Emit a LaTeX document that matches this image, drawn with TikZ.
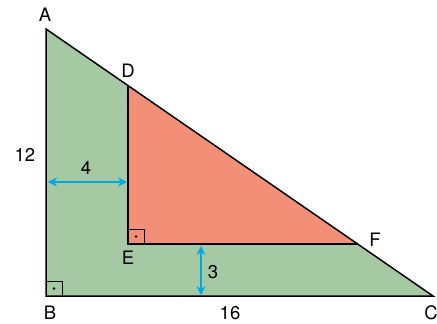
\documentclass[tikz,border=0pt]{standalone}
\usepackage{fontspec}
\setmainfont{TeX Gyre Heros}
\usetikzlibrary{arrows.meta}
\definecolor{greenf}{RGB}{165,201,163}
\definecolor{redf}{RGB}{243,143,118}
\definecolor{cyanA}{RGB}{0,168,228}
\tikzset{
  edge/.style={line width=1.5pt, line join=miter},
  lbl/.style={font=\fontsize{18.5}{20}\selectfont, inner sep=0pt},
  dim/.style={cyanA, line width=1.5pt, {Stealth[length=9pt,width=9pt]}-{Stealth[length=9pt,width=9pt]}},
  rmark/.style={line width=1pt}
}
\begin{document}
\begin{tikzpicture}[x=1pt,y=-1pt]
\useasboundingbox (0,0) rectangle (437,324);
\coordinate (A) at (46,29);
\coordinate (B) at (46,296);
\coordinate (C) at (433,296);
\coordinate (D) at (128,86);
\coordinate (E) at (128,244);
\coordinate (F) at (357.5,244);
\fill[greenf] (A) -- (B) -- (C) -- cycle;
\fill[redf] (D) -- (E) -- (F) -- cycle;
\draw[edge] (A) -- (B) -- (C) -- cycle;
\draw[edge] (D) -- (E) -- (F);
% right-angle marks
\draw[rmark] (46,281) -- (62,281) -- (62,296);
\fill (54,288.5) circle (1.4);
\draw[rmark] (128,229) -- (144,229) -- (144,244);
\fill (136,236.5) circle (1.4);
% dimension arrows
\coordinate (h1) at (48,182);
\coordinate (h2) at (127,182);
\draw[dim] (h1) -- (h2);
\coordinate (v1) at (201,246);
\coordinate (v2) at (201,295);
\draw[dim] (v1) -- (v2);
% labels
\node[lbl] (lA) at (45,15) {A};
\node[lbl] (lD) at (128,71) {D};
\node[lbl] (l12) at (25,155) {12};
\node[lbl] (l4) at (86,168) {4};
\node[lbl] (lE) at (128,258) {E};
\node[lbl] (lF) at (375,240) {F};
\node[lbl] (l3) at (213,272) {3};
\node[lbl] (lB) at (50,313) {B};
\node[lbl] (l16) at (230,313) {16};
\node[lbl] (lC) at (431,313) {C};
\end{tikzpicture}
\end{document}
